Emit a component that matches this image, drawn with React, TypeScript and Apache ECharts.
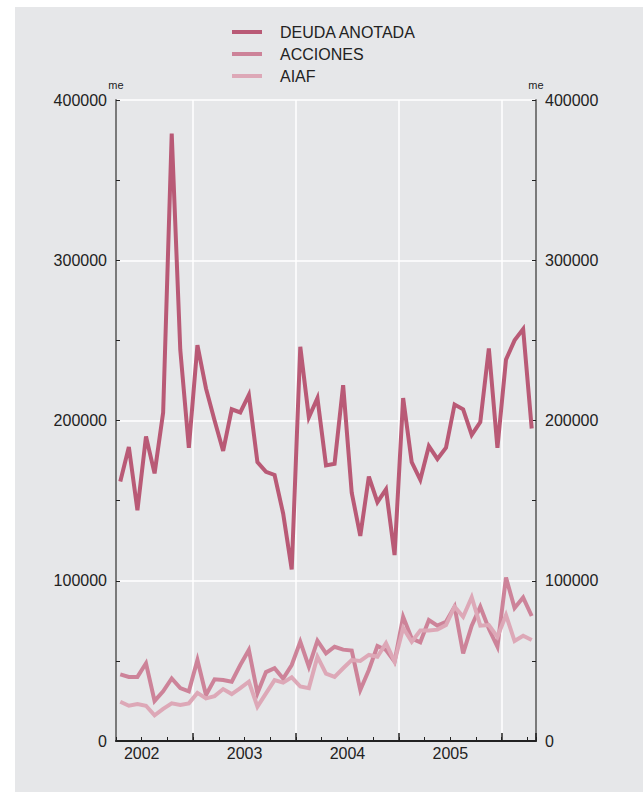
import React, { useEffect, useRef } from "react";
import * as echarts from "echarts";

const months = [
  "2002-04", "2002-05", "2002-06", "2002-07", "2002-08", "2002-09", "2002-10", "2002-11", "2002-12",
  "2003-01", "2003-02", "2003-03", "2003-04", "2003-05", "2003-06", "2003-07", "2003-08", "2003-09", "2003-10", "2003-11", "2003-12",
  "2004-01", "2004-02", "2004-03", "2004-04", "2004-05", "2004-06", "2004-07", "2004-08", "2004-09", "2004-10", "2004-11", "2004-12",
  "2005-01", "2005-02", "2005-03", "2005-04", "2005-05", "2005-06", "2005-07", "2005-08", "2005-09", "2005-10", "2005-11", "2005-12",
  "2006-01", "2006-02", "2006-03", "2006-04",
];

const years = ["2002", "2003", "2004", "2005"];

const deudaAnotada = [
  162000, 183500, 144000, 190000, 167000, 205000, 379000, 244000, 183000,
  247000, 220000, 200000, 181000, 207000, 205000, 216000, 174000, 168000, 166000, 142000, 107000,
  246000, 202000, 214000, 172000, 173000, 222000, 155000, 128000, 165000, 149000, 157000, 116000,
  214000, 174000, 163000, 184000, 176000, 183000, 210000, 207000, 191000, 199000, 245000, 183000,
  238000, 250000, 257000, 195000,
];

const acciones = [
  41600, 40000, 40000, 48500, 25000, 31000, 39000, 33000, 31000,
  50500, 28700, 38500, 38000, 37000, 47400, 56800, 29800, 43000, 45400, 39000, 47400,
  62000, 46400, 62600, 54700, 58800, 57000, 56400, 31800, 44300, 59300, 56800, 49500,
  77500, 64000, 61600, 75500, 72000, 74400, 83800, 54700, 72000, 83800, 70000, 58800,
  102000, 83000, 89500, 78000,
];

const aiaf = [
  24500, 22000, 23000, 22000, 16000, 20000, 23500, 22500, 23500,
  30000, 26600, 28000, 32400, 29300, 33000, 37000, 21400, 29700, 38000, 36400, 39700,
  34000, 33000, 52600, 42000, 40000, 45400, 50500, 50000, 53700, 52600, 61000, 49500,
  70500, 62000, 69000, 69000, 69500, 72400, 83800, 77500, 89700, 72000, 72400, 65000,
  78600, 62400, 65700, 63000,
];

const seriesNames = ["DEUDA ANOTADA", "ACCIONES", "AIAF"];
const seriesColors = ["#b95a76", "#cd8399", "#dda8b7"];

const FONT = "'Liberation Sans', Arial, Helvetica, sans-serif";

export default function App() {
  const ref = useRef<HTMLDivElement>(null);

  useEffect(() => {
    if (!ref.current) return;
    const chart = echarts.init(ref.current, null, { renderer: "svg" });

    const yAxisBase = (pos: "left" | "right") => ({
      type: "value",
      position: pos,
      min: 0,
      max: 400000,
      interval: 100000,
      name: "me",
      nameLocation: "end",
      nameGap: 10,
      nameTextStyle: { fontSize: 11, color: "#222", fontFamily: FONT, align: "center" },
      axisLine: { show: true, lineStyle: { color: "#7a7a7a", width: 2 } },
      axisTick: { show: true, inside: true, length: 4, lineStyle: { color: "#222", width: 1 } },
      minorTick: { show: true, splitNumber: 2, length: 4, lineStyle: { color: "#222", width: 1 } },
      axisLabel: {
        fontSize: 16,
        color: "#222",
        fontFamily: FONT,
        margin: 9,
        formatter: (v: number) => String(v),
      },
      splitLine: pos === "left"
        ? { show: true, lineStyle: { color: "#ffffff", width: 1.5 } }
        : { show: false },
      minorSplitLine: { show: false },
    });

    const option: any = {
      animation: false,
      backgroundColor: "#ffffff",
      textStyle: { fontFamily: FONT },
      graphic: [
        {
          type: "rect",
          z: -10,
          silent: true,
          shape: { x: 15, y: 7, width: 628, height: 785 },
          style: { fill: "#e6e7e9" },
        },
      ],
      legend: {
        orient: "vertical",
        left: 232,
        top: 24,
        padding: 0,
        icon: "rect",
        itemWidth: 30,
        itemHeight: 4,
        itemGap: 6,
        data: seriesNames,
        textStyle: {
          fontSize: 16,
          lineHeight: 15,
          color: "#222",
          fontFamily: FONT,
          padding: [0, 0, 0, 13],
        },
      },
      grid: { left: 116, right: 107, top: 100, bottom: 51, containLabel: false },
      xAxis: [
        {
          type: "category",
          position: "bottom",
          data: months,
          boundaryGap: true,
          axisLine: { show: true, lineStyle: { color: "#222", width: 2 } },
          axisTick: {
            show: true,
            inside: true,
            length: 4,
            interval: (i: number) => i % 3 === 0,
            lineStyle: { color: "#222", width: 1 },
          },
          axisLabel: { show: false },
          splitLine: {
            show: true,
            interval: (i: number) => i % 12 === 9,
            lineStyle: { color: "#ffffff", width: 1.5 },
          },
        },
        {
          type: "category",
          position: "bottom",
          data: months,
          boundaryGap: true,
          axisLine: { show: false },
          axisTick: {
            show: true,
            inside: true,
            length: 8,
            interval: (i: number) => i % 12 === 9,
            lineStyle: { color: "#222", width: 1.5 },
          },
          axisLabel: { show: false },
          splitLine: { show: false },
        },
        {
          type: "value",
          position: "bottom",
          min: 0,
          max: months.length,
          interval: 3,
          axisLine: { show: false },
          axisTick: { show: false },
          splitLine: { show: false },
          axisLabel: {
            fontSize: 16,
            color: "#222",
            fontFamily: FONT,
            margin: 4,
            showMaxLabel: false,
            formatter: (v: number) => {
              const k = (v - 3) / 12;
              if (Number.isInteger(k) && k >= 0 && k < years.length) return years[k];
              return "";
            },
          },
        },
      ],
      yAxis: [yAxisBase("left"), yAxisBase("right")],
      series: [deudaAnotada, acciones, aiaf].map((d, idx) => ({
        name: seriesNames[idx],
        type: "line",
        xAxisIndex: 0,
        yAxisIndex: 0,
        data: d,
        symbol: "none",
        showSymbol: false,
        color: seriesColors[idx],
        lineStyle: { width: 4, color: seriesColors[idx], join: "miter", miterLimit: 10 },
        emphasis: { disabled: true },
        z: 2 + idx,
      })),
    };

    chart.setOption(option);
    return () => chart.dispose();
  }, []);

  return (
    <div
      ref={ref}
      style={{ position: "absolute", left: 0, top: 0, width: 643, height: 792 }}
    />
  );
}
